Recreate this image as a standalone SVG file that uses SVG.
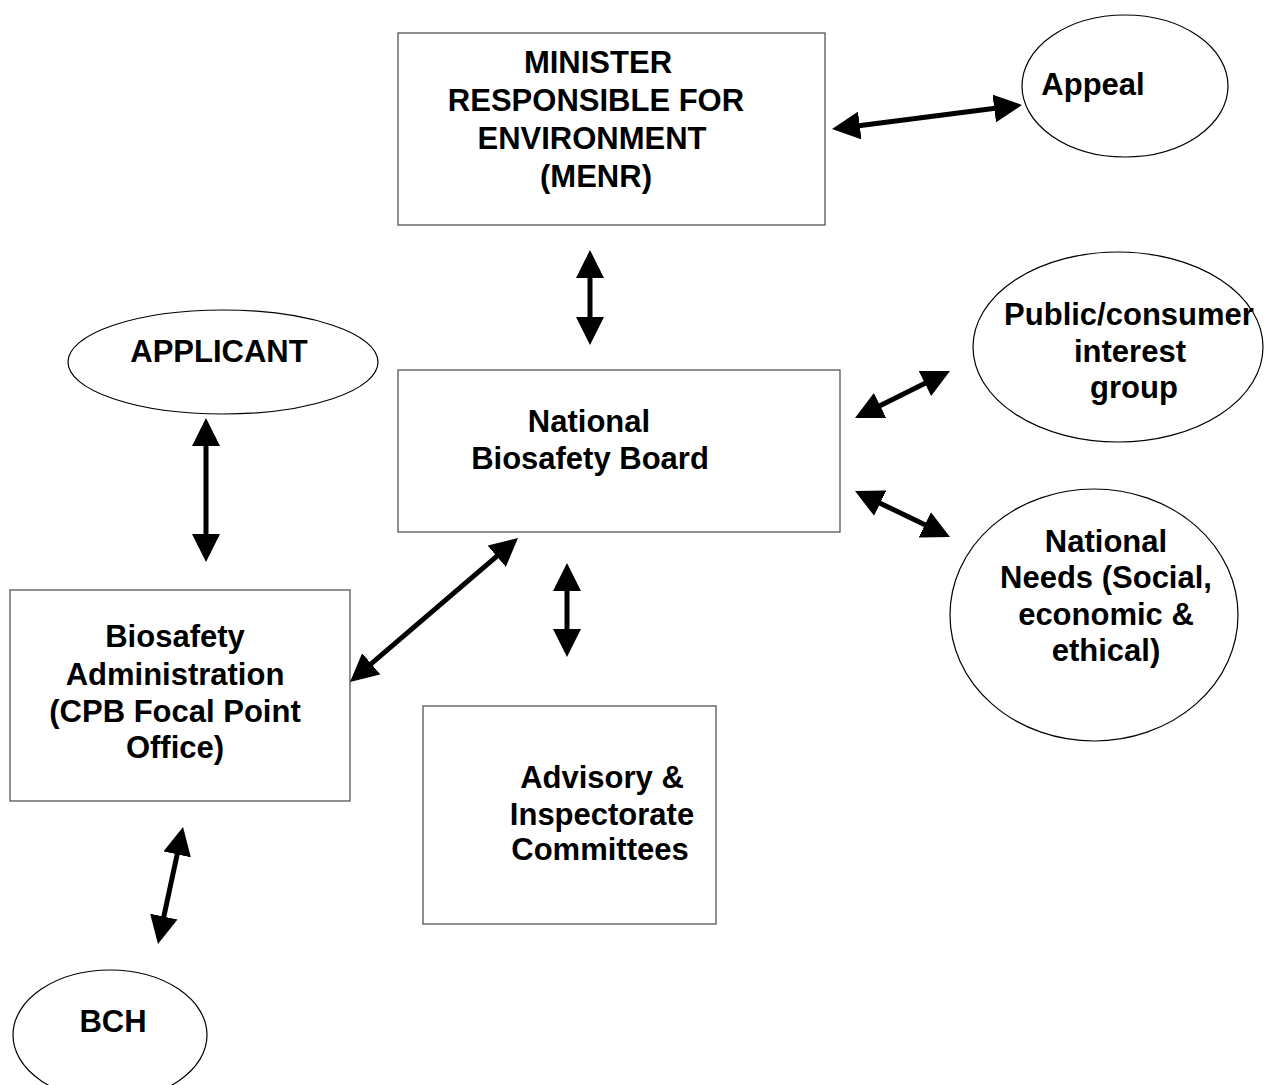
<svg xmlns="http://www.w3.org/2000/svg" width="1277" height="1085" viewBox="0 0 1277 1085">
<style>
.box{fill:#fff;stroke:#555;stroke-width:1.3}
.ell{fill:#fff;stroke:#000;stroke-width:1.2}
.t{font-family:"Liberation Sans",Arial,sans-serif;font-weight:bold;font-size:31px;fill:#000;text-anchor:middle}
.c{stroke:#000;stroke-width:5;fill:none;marker-start:url(#ah);marker-end:url(#ah)}
</style>
<defs>
<marker id="ah" markerUnits="userSpaceOnUse" markerWidth="28" markerHeight="28" refX="3" refY="14" orient="auto-start-reverse" viewBox="0 0 28 28">
<path d="M0,0 L28,14 L0,28 Z" fill="#000"/>
</marker>
</defs>
<rect width="1277" height="1085" fill="#fff"/>
<g id="menr">
<rect class="box" x="398" y="33" width="427" height="192"/>
<text class="t" x="598" y="73">MINISTER</text>
<text class="t" x="596" y="111">RESPONSIBLE FOR</text>
<text class="t" x="592" y="149">ENVIRONMENT</text>
<text class="t" x="596" y="187">(MENR)</text>
</g>
<g id="appeal">
<ellipse class="ell" cx="1125" cy="86" rx="103" ry="71"/>
<text class="t" x="1093" y="95">Appeal</text>
</g>
<g id="applicant">
<ellipse class="ell" cx="223" cy="362" rx="155" ry="52"/>
<text class="t" x="219" y="362">APPLICANT</text>
</g>
<g id="nbb">
<rect class="box" x="398" y="370" width="442" height="162"/>
<text class="t" x="589" y="432">National</text>
<text class="t" x="590" y="469">Biosafety Board</text>
</g>
<g id="public">
<ellipse class="ell" cx="1118" cy="347" rx="145" ry="95"/>
<text class="t" x="1129" y="325">Public/consumer</text>
<text class="t" x="1130" y="362">interest</text>
<text class="t" x="1134" y="398">group</text>
</g>
<g id="needs">
<ellipse class="ell" cx="1094" cy="615" rx="144" ry="126"/>
<text class="t" x="1106" y="552">National</text>
<text class="t" x="1106" y="588">Needs (Social,</text>
<text class="t" x="1106" y="625">economic &amp;</text>
<text class="t" x="1106" y="661">ethical)</text>
</g>
<g id="admin">
<rect class="box" x="10" y="590" width="340" height="211"/>
<text class="t" x="175" y="647">Biosafety</text>
<text class="t" x="175" y="685">Administration</text>
<text class="t" x="175" y="722">(CPB Focal Point</text>
<text class="t" x="175" y="758">Office)</text>
</g>
<g id="advisory">
<rect class="box" x="423" y="706" width="293" height="218"/>
<text class="t" x="602" y="788">Advisory &amp;</text>
<text class="t" x="602" y="825">Inspectorate</text>
<text class="t" x="600" y="860">Committees</text>
</g>
<g id="bch">
<ellipse class="ell" cx="110" cy="1035" rx="97" ry="65"/>
<text class="t" x="113" y="1032">BCH</text>
</g>
<g id="connectors">
<line class="c" x1="856.8" y1="125.9" x2="997.2" y2="108.1"/>
<line class="c" x1="590" y1="275" x2="590" y2="320"/>
<line class="c" x1="206" y1="443" x2="206" y2="537"/>
<line class="c" x1="499" y1="554.3" x2="369" y2="665.7"/>
<line class="c" x1="567" y1="588" x2="567" y2="632"/>
<line class="c" x1="177.8" y1="851.5" x2="163.2" y2="919.5"/>
<line class="c" x1="877.4" y1="406.9" x2="927.6" y2="382.1"/>
<line class="c" x1="877.5" y1="501.9" x2="927.5" y2="526.1"/>
</g>
</svg>
